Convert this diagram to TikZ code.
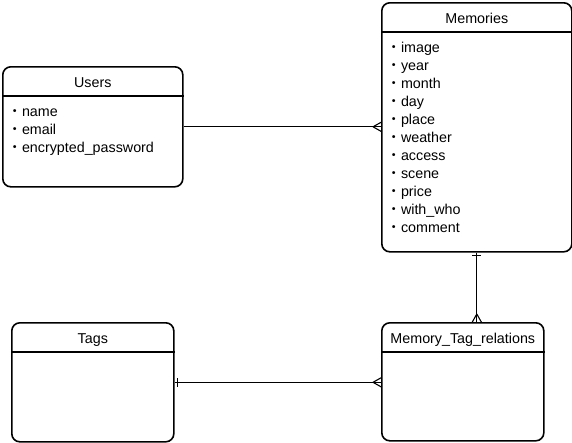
\documentclass[tikz,border=0pt]{standalone}
\usepackage{fontspec}
\setmainfont{Liberation Sans}
\newfontfamily\cjk{Noto Sans CJK JP}
\usetikzlibrary{calc,decorations.markings}

\tikzset{
    entity/.style = {draw, line width=1.6pt, rounded corners=8pt, anchor=north west, inner sep=0pt},
    title/.style = {anchor=base, inner sep=0pt, font=\fontsize{14.3}{16}\selectfont},
    attr/.style = {anchor=base west, inner sep=0pt, font=\fontsize{14.3}{16}\selectfont},
    divider/.style = {line width=1.1pt},
    rel/.style = {line width=1.1pt, postaction={decorate}},
    many/.style = {decoration={markings, mark=at position 1 with {\draw[line width=1.1pt] (-8pt,0) -- (0,4.5pt) (-8pt,0) -- (0,-4.5pt);}}},
    onemany/.style = {decoration={markings,
        mark=at position 3pt with {\draw[line width=1.1pt] (0,-4.5pt) -- (0,4.5pt);},
        mark=at position 1 with {\draw[line width=1.1pt] (-8pt,0) -- (0,4.5pt) (-8pt,0) -- (0,-4.5pt);}}}
}

\begin{document}
\begin{tikzpicture}[x=1pt, y=-1pt]
    \useasboundingbox (0,0) rectangle (572,442);

    % entities
    \node [entity, minimum width=180pt, minimum height=120pt] (users) at (2,66) {};
    \node [entity, minimum width=190pt, minimum height=249pt] (mem) at (381,2) {};
    \node [entity, minimum width=162pt, minimum height=119pt] (tags) at (11,322) {};
    \node [entity, minimum width=162pt, minimum height=118pt] (mtr) at (381,322) {};

    % headers
    \foreach \ent/\name in {users/Users, mem/Memories, tags/Tags, mtr/Memory\_Tag\_relations} {
        \node [title] (\ent-title) at ($(\ent.north)+(0,21)$) {\name};
        \draw [divider] ($(\ent.north west)+(0,30)$) -- ($(\ent.north east)+(0,30)$);
    }

    % attributes
    \foreach \a [count=\i] in {name, email, encrypted\_password}
        \node [attr] (users-\i) at ($(users.north west)+(5.5,50+18*\i-18)$) {{\cjk ・}\a};
    \foreach \a [count=\i] in {image, year, month, day, place, weather, access, scene, price, with\_who, comment}
        \node [attr] (mem-\i) at ($(mem.north west)+(5.5,50+18*\i-18)$) {{\cjk ・}\a};

    % relations
    \draw [rel, many] (users.east) -- (users.east -| mem.west);
    \draw [rel, onemany] (mem.south) -- (mem.south |- mtr.north);
    \draw [rel, onemany] (tags.east) -- (tags.east -| mtr.west);
\end{tikzpicture}
\end{document}
